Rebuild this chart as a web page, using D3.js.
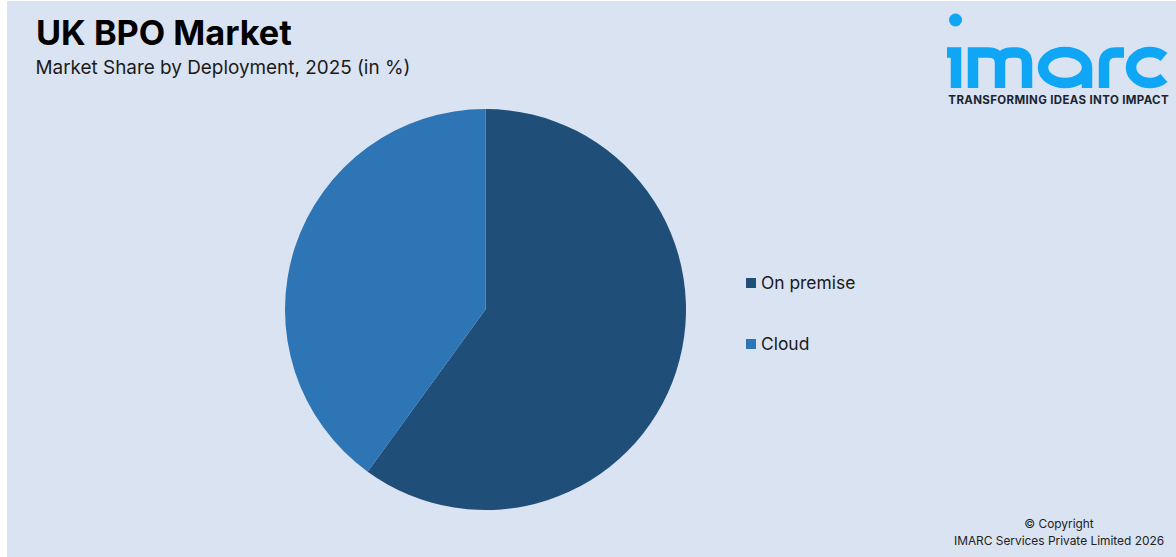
<!DOCTYPE html>
<html><head><meta charset="utf-8">
<script src="https://cdn.jsdelivr.net/npm/d3@7/dist/d3.min.js"></script>
<style>html,body{margin:0;padding:0;background:#fff}svg{display:block}text{font-family:Inter,"Noto Sans",sans-serif}</style>
</head><body><div id="c"></div>
<script>
const categories = ["On premise", "Cloud"];
const shares = [60, 40];
const colors = ["#1f4e79", "#2e75b6"];
const title = "UK BPO Market";
const subtitle = "Market Share by Deployment, 2025 (in %)";
const tagline = "TRANSFORMING IDEAS INTO IMPACT";
const copyright = ["© Copyright", "IMARC Services Private Limited 2026"];

const svg = d3.select("#c").append("svg").attr("width",1176).attr("height",557);
svg.append("rect").attr("x",7).attr("y",1).attr("width",1169).attr("height",556).attr("fill","#dae3f2");
svg.append("text").attr("x",36).attr("y",45).attr("font-size",34.3).attr("font-weight",700).attr("fill","#000").text(title);
svg.append("text").attr("x",35.5).attr("y",74).attr("font-size",18.9).attr("fill","#1a1a1a").text(subtitle);

const pie = d3.pie().sort(null).value(d=>d)(shares);
const arc = d3.arc().innerRadius(0).outerRadius(200.5);
svg.append("g").attr("transform","translate(485.5,309.5)").selectAll("path").data(pie).join("path")
  .attr("d",arc).attr("fill",(d,i)=>colors[i]);

const ly = d3.scalePoint().domain(categories).range([283,344]);
const lg = svg.append("g").selectAll("g").data(categories).join("g").attr("transform",d=>`translate(746,${ly(d)})`);
lg.append("rect").attr("x",0).attr("y",-5).attr("width",10).attr("height",10).attr("fill",(d,i)=>colors[i]);
lg.append("text").attr("x",15).attr("y",6).attr("font-size",17.4).attr("fill","#1a1a1a").text(d=>d);

const logoColor = "#0fa7f5";
const logo = svg.append("g").attr("fill","none").attr("stroke",logoColor).attr("stroke-width",10.5);
svg.append("circle").attr("cx",955.5).attr("cy",20).attr("r",6.5).attr("fill",logoColor);
logo.append("path").attr("d","M947 52.5H956V88");
logo.append("path").attr("d","M973 88V52.5H988Q1000 52.5 1000 63V88M1000 63Q1000 52.5 1012 52.5H1016Q1027 52.5 1027 63V88");
logo.append("path").attr("d","M1087 67.5A22 15.5 0 1 1 1043 67.5A22 15.5 0 1 1 1087 67.5V88");
logo.append("path").attr("d","M1104 88V64Q1104 52.5 1116 52.5H1124");
logo.append("path").attr("d","M1164 57A19 15.5 0 1 0 1164 78");

svg.append("text").attr("x",1169).attr("y",104).attr("text-anchor","end").attr("font-size",11.5).attr("font-weight",700).attr("letter-spacing",0.35).attr("fill","#1a2530").text(tagline);
svg.append("g").selectAll("text").data(copyright).join("text").attr("x",1059).attr("y",(d,i)=>528+i*17)
  .attr("text-anchor","middle").attr("font-size",11.9).attr("fill","#222").text(d=>d);
</script></body></html>
